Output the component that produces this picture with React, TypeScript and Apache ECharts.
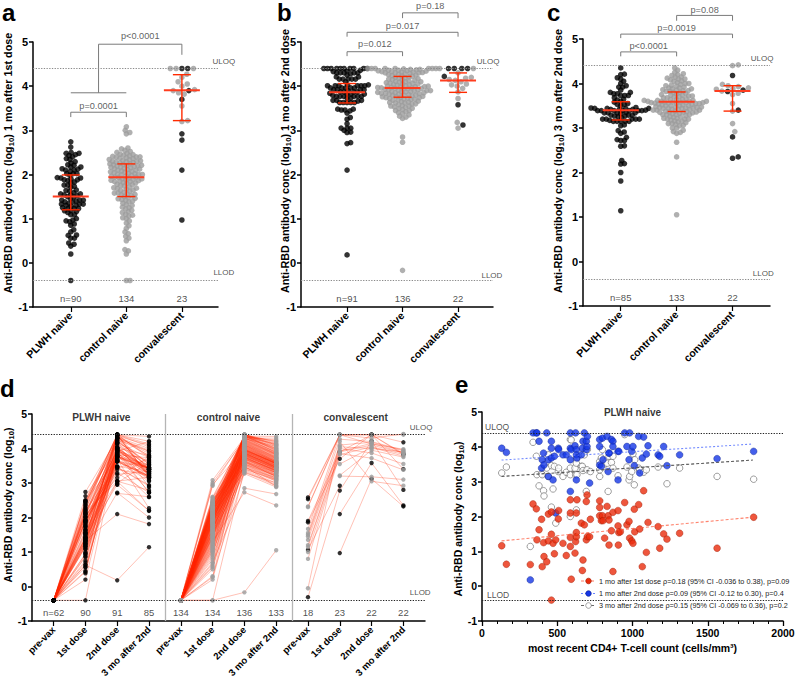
import React, { useEffect, useRef } from 'react';
import * as echarts from 'echarts';

const FONT = '"Liberation Sans", Arial, Helvetica, sans-serif';
const ULOQ = 4.4;
const LLOD = -0.4;

const groupNames = ['PLWH naive', 'control naive', 'convalescent'];
const timeLabels = ['pre-vax', '1st dose', '2nd dose', '3 mo after 2nd'];
const dColumns = [1, 2, 3, 4, 5, 6, 7, 8, 9, 10, 11, 12];

// ---------- PLWH naive, one entry per participant ----------
const plwhCd4 = [131, 162, 321, 339, 361, 365, 379, 396, 400, 409, 412, 430, 441, 441, 461, 461, 461, 472, 481, 490,
  507, 509, 538, 560, 587, 587, 587, 587, 593, 618, 622, 627, 627, 627, 631, 660, 667, 671, 680, 693,
  693, 698, 700, 715, 720, 782, 782, 782, 793, 800, 804, 815, 831, 838, 844, 844, 860, 870, 870, 904,
  904, 906, 909, 919, 948, 963, 977, 981, 995, 1003, 1012, 1015, 1041, 1048, 1065, 1074, 1092, 1103, 1170, 1181,
  1207, 1229, 1313, 1562, 1805, null, null, null, null, null, null, null, null, null, null, null, null, null];
const plwhDose1 = [1.16, 0.63, 0.62, 2.36, 2.22, 1.33, 1.62, 1.92, 0.56, 1.25, 0.85, 0.7, 2.07, 1.3, 2.13, 1.49, -0.4, 1.23, 0.93, 1.33,
  1.93, 2.17, 1.23, 0.88, 2.48, 2.1, 1.4, 1.14, 0.2, 0.95, 1.28, 2.1, 1.54, 1.42, 2.48, 1.81, 0.45, 0.75, 1.76, 2.43,
  1.33, 2.62, 1.42, 1.42, 1.92, 2.45, 2.26, 2.02, 1.88, 2.02, 1.88, 1.38, 2.29, 2.02, 1.9, 1.18, 1.59, 2.12, 0.42, 2.17,
  1.73, 1.18, 1.54, 1.56, 2.4, 1.76, 1.86, 1.38, 1.3, 1.23, 2.21, 1.56, 2.34, 1.64, 0.56, 2.74, 0.97, 1.83, 1.71, 1.09,
  1.5, 1.35, 1.52, 1.09, 1.98, 1.45, 2.5, 1.0, 0.38, 1.65, null, null, null, null, null, null, null, null];
const plwhDose2 = [3.96, 3.84, 0.18, 4.4, 4.4, 4.4, 4.16, 3.39, 3.63, 3.82, 3.48, 4.4, 3.15, 3.63, 4.16, 3.68, 3.96, 3.05, 3.73, 2.1,
  3.96, 3.92, 3.77, 3.77, 4.4, 3.96, 3.63, 2.72, 3.92, 4.03, 4.4, 3.92, 3.05, 3.77, 3.68, 3.77, 3.96, 4.16, 4.4, 4.16,
  3.92, 4.01, 4.3, 2.96, null, 4.21, 4.01, 3.48, 3.44, 4.25, 3.63, null, 4.3, 3.29, 3.82, 3.82, 4.21, 4.16, 4.01, 3.05,
  3.87, null, 3.87, null, 4.4, 4.01, 3.63, 4.4, 3.87, 4.01, 3.46, null, 4.3, 3.25, 3.68, 4.28, 3.79, 4.03, 3.77, 3.73,
  4.01, 3.46, 3.77, 3.66, 3.87, 4.4, 4.36, 4.33, 4.3, 4.35, 4.3, 3.0, 2.95, 2.7, 4.1, 3.9, null, null];
const plwhMo3 = [3.25, 3.42, 1.14, 4.13, 3.73, 3.2, 2.88, 3.23, 3.2, 2.74, 2.59, 3.39, 3.77, 3.15, 3.46, 2.27, null, 2.79, 3.44, 1.81,
  3.29, 3.39, 3.15, 3.27, 4.21, 3.39, 3.2, 2.0, 4.2, 3.39, 3.2, 3.65, 2.19, 3.53, 3.2, 3.44, 3.44, 3.32, 3.77, null,
  2.72, 3.34, 3.92, null, 3.29, 3.58, 3.15, 3.34, 3.68, 3.92, 3.44, null, 3.53, 2.72, 3.73, null, 3.55, 3.73, 3.39, 3.17,
  null, null, null, null, 4.35, 3.42, 3.05, 3.15, 3.29, 3.8, 2.91, 3.63, 3.39, 3.34, null, 3.27, 3.34, null, 3.42, null,
  null, 2.94, 3.39, 3.15, 3.07, 4.05, 4.1, 4.0, 3.95, 3.85, 3.8, 3.6, 2.2, 2.6, 3.5, 3.45, 3.4, 3.35];
const plwhPreVaxN = 62; // all pre-vaccination samples were below LLOD

// ---------- control naive ----------
const ctrlDose1 = [-0.4, -0.4, 0.2, 0.27, 0.3, 0.5, 0.56, 0.6, 0.66, 0.7,
  0.78, 0.84, 0.9, 0.95, 1.0, 1.02, 1.06, 1.08, 1.1, 1.14,
  1.16, 1.19, 1.22, 1.25, 1.26, 1.3, 1.32, 1.35, 1.38, 1.4,
  1.42, 1.43, 1.45, 1.46, 1.48, 1.5, 1.52, 1.54, 1.55, 1.56, 1.58, 1.58,
  1.6, 1.62, 1.64, 1.65, 1.67, 1.68, 1.69, 1.7, 1.72, 1.74, 1.75,
  1.77, 1.78, 1.8, 1.81, 1.82, 1.84, 1.84, 1.85, 1.86, 1.87, 1.88,
  1.89, 1.9, 1.91, 1.92, 1.93, 1.94, 1.94, 1.96, 1.97, 1.98, 1.99,
  2.0, 2.0, 2.01, 2.02, 2.03, 2.04, 2.05, 2.06, 2.07, 2.08, 2.1,
  2.1, 2.11, 2.12, 2.13, 2.14, 2.15, 2.16, 2.17, 2.18, 2.19, 2.2,
  2.2, 2.21, 2.22, 2.23, 2.24, 2.24, 2.26, 2.27, 2.28, 2.29, 2.3,
  2.3, 2.31, 2.32, 2.33, 2.34, 2.36, 2.37, 2.38, 2.39, 2.4,
  2.4, 2.41, 2.42, 2.44, 2.45, 2.46, 2.48, 2.5, 2.52, 2.55,
  2.58, 2.6, 2.92, 2.95, 3.0, 3.08, null, null];
const ctrlDose2 = [-0.17, 3.4, 3.62, 4.1, 3.3, 3.85, 3.55, 4.4, 3.7, 2.85, 3.95, 3.45, 4.05, 3.6, 3.78, 3.35, 4.2,
  3.88, 3.52, 4.4, 3.72, 4.0, 3.42, 3.8, 4.15, 2.73, 3.65, 3.92, 4.3, 3.58, 3.82, 4.08, 3.49, 3.75,
  4.4, 3.9, 3.68, 4.12, 3.27, 3.84, 4.25, 3.56, 3.96, 4.4, 3.74, 4.02, 3.63, 3.87, 4.18, 3.5, 3.93,
  4.35, 3.76, 4.06, 3.66, 3.99, 4.4, 3.81, 3.53, 4.22, 3.89, 4.4, 3.71, 4.14, 3.94, 3.38, 4.28, 3.86,
  4.04, 4.36, 3.79, 3.6, 4.17, 3.91, 4.32, 3.73, 4.4, 3.97, 3.47, 4.09, 3.83, 4.38, 3.69, 4.0, 4.33,
  3.77, 4.11, 3.95, 4.4, 3.32, 4.24, 3.88, 4.03, 3.64, 4.3, 3.9, 4.19, 3.74, 4.36, 3.98, 4.07, 3.55,
  4.38, 3.85, 4.13, 3.92, 4.27, 3.7, 4.4, 3.97, 4.05, 3.8, 4.21, 4.35, 3.62, 3.94, 4.33, 4.16, 3.87,
  4.31, 4.01, 3.76, 4.23, 4.37, 3.96, 4.1, 3.45, 4.34, 3.84, 4.3, 4.29, 3.99, 4.26, 4.32, 3.82, 4.39];
const ctrlMo3 = [1.05, 3.1, 3.3, 3.65, 3.0, 3.5, 3.2, 4.0, 3.35, 2.68, 3.55, 3.15, 3.6, 3.25, 3.42, 2.95, 3.78,
  3.45, 3.12, 4.1, 3.38, null, 3.05, 3.4, 3.72, 2.35, 3.28, 3.5, 3.9, 3.22, 3.44, 3.62, 2.9, 3.36,
  4.05, 3.52, 3.3, 3.68, 2.88, 3.46, 3.82, 3.2, 3.58, 4.2, 3.34, 3.6, 3.18, 3.47, 3.75, 3.1, 3.54,
  3.95, 3.35, 3.64, 3.26, 3.56, 4.15, 3.42, 3.14, 3.8, 3.5, null, 3.32, 3.7, 3.55, 3.0, 3.85, 3.48,
  3.62, 4.35, 3.4, 3.2, 3.74, 3.52, 3.88, 3.33, 4.1, 3.57, 3.08, 3.66, 3.44, 3.98, 3.3, 3.6, 4.25,
  3.38, 3.7, 3.58, 4.12, 2.92, 3.84, 3.46, 3.62, 3.24, 4.0, 3.5, 3.76, 3.36, 3.92, 3.57, 3.64, 3.16,
  4.08, 3.45, 3.72, 3.53, 3.86, 3.3, 4.18, 3.57, null, 3.4, 3.8, 4.02, 3.22, 3.55, 3.9, 3.74, 3.47,
  4.3, 3.6, 3.37, 3.82, 3.96, 3.56, 3.68, 3.06, 4.22, 3.44, 3.88, 4.06, 3.58, 3.84, 4.14, 3.42, 3.94];
const ctrlPreVaxN = 134;

// ---------- convalescent (1 = living with HIV) ----------
const convHiv = [1, 1, 1, 1, 1, 1, 1, 1, 0, 0, 0, 0, 0, 0, 0, 0, 0, 0, 0, 0, 0, 0, 0];
const convPre = [2.58, 2.53, 1.9, 1.86, 1.06, -0.31, null, null, 2.32, 2.3, 1.67, 1.55, -0.05, 1.5, 1.45, 1.35, 1.2, 1.15, 1.0, 0.8, null, null, null];
const convDose1 = [4.4, 4.4, 3.9, 3.7, 2.92, 2.78, 2.1, 0.97, 4.4, 4.4, 4.4, 4.27, 4.2, 4.1, 4.05, 4.0, 3.92, 3.9, 3.85, 3.82, 3.55, 3.22, 3.2];
const convDose2 = [4.4, 4.4, 4.4, 4.4, null, 4.22, 3.58, 3.12, 4.3, 4.4, 4.13, 4.2, 3.05, 4.18, 4.0, 3.87, 4.15, 4.1, 3.72, 4.05, 4.03, 3.95, 3.18];
const convMo3 = [4.18, 3.85, 3.82, 3.4, null, 2.8, 2.35, 2.32, 4.42, 4.4, 3.98, 3.95, 2.92, 3.93, 3.9, 3.55, 3.88, 3.87, 3.38, 3.83, 3.78, 3.75, 3.1];

// ---------- summary statistics (median, IQR) ----------
const medA = [1.5, 1.94, 3.91]; const q1A = [1.2, 1.5, 3.22]; const q3A = [1.99, 2.24, 4.26];
const medB = [3.86, 3.96, 4.13]; const q1B = [3.62, 3.75, 3.86]; const q3B = [4.06, 4.22, 4.3];
const medC = [3.4, 3.59, 3.83]; const q1C = [3.18, 3.37, 3.38]; const q3C = [3.59, 3.81, 3.95];

const nA = ['n=90', '134', '23'];
const nB = ['n=91', '136', '22'];
const nC = ['n=85', '133', '22'];
const nD = ['n=62', '90', '91', '85', '134', '134', '136', '133', '18', '23', '22', '22'];

const pA = [[1.5, 3.54, 'p=0.0001'], [2.25, 5.14, 'p<0.0001']];
const pB = [[1.5, 4.95, 'p=0.012'], [2, 5.37, 'p=0.017'], [2.5, 5.81, 'p=0.18']];
const pC = [[1.5, 4.85, 'p<0.0001'], [2, 5.24, 'p=0.0019'], [2.5, 5.66, 'p=0.08']];
const bracketsA = [
  [[1, 3.3], [1, 3.41], [2, 3.41], [2, 3.3]],
  [[1, 3.85], [2, 3.85]],
  [[1.5, 3.85], [1.5, 4.95], [3, 4.95], [3, 4.71]],
];
const bracketsB = [
  [[1, 4.68], [1, 4.78], [2, 4.78], [2, 4.68]],
  [[1, 5.12], [1, 5.22], [3, 5.22], [3, 5.12]],
  [[2, 5.54], [2, 5.66], [3, 5.66], [3, 5.54]],
];
const bracketsC = [
  [[1, 4.61], [1, 4.71], [2, 4.71], [2, 4.61]],
  [[1, 5.02], [1, 5.11], [3, 5.11], [3, 5.02]],
  [[2, 5.41], [2, 5.53], [3, 5.53], [3, 5.41]],
];

// regression lines in panel e
const fitX = [130, 1800];
const fitDose1 = [1.3, 1.98];
const fitDose2 = [3.62, 4.08];
const fitMo3 = [3.15, 3.62];
const legendLabels = [
  '1 mo after 1st dose \u03c1=0.18 (95% CI -0.036 to 0.38), p=0.09',
  '1 mo after 2nd dose \u03c1=0.09 (95% CI -0.12 to 0.30), p=0.4',
  '3 mo after 2nd dose \u03c1=0.15 (95% CI -0.069 to 0.36), p=0.2',
];

// ---------- layout ----------
const GA = { left: 33, top: 42, width: 185, height: 265, xMin: 0.32, xMax: 3.65 };
const GB = { left: 301, top: 42, width: 192, height: 265, xMin: 0.17, xMax: 3.63 };
const GC = { left: 583, top: 39, width: 187, height: 267, xMin: 0.325, xMax: 3.67 };
const GD = { left: 32, top: 414, width: 393, height: 207, xMin: 0.32, xMax: 12.68 };
const GE = { left: 482, top: 412, width: 301, height: 209, xMin: 0, xMax: 2000 };

const BLACK = '#000';
const GRAY = '#9c9c9c';
const RED = '#ff2a00';
const SWARM_GAP = 3.7;

function swarmOffsets(vals, pxX, pxY, gap) {
  const order = vals.map((_, i) => i).sort((a, b) => vals[a] - vals[b]);
  const placed = [];
  const off = vals.map(() => 0);
  for (const i of order) {
    const y = vals[i] * pxY;
    const near = placed.filter((p) => Math.abs(p[1] - y) < gap);
    const cands = [0];
    near.forEach((p) => {
      const d = Math.sqrt(gap * gap - (p[1] - y) * (p[1] - y));
      cands.push(p[0] + d, p[0] - d);
    });
    cands.sort((a, b) => Math.abs(a) - Math.abs(b) || b - a);
    let x = 0;
    for (const c of cands) {
      if (near.every((p) => (p[0] - c) * (p[0] - c) + (p[1] - y) * (p[1] - y) >= gap * gap - 0.01)) { x = c; break; }
    }
    placed.push([x, y]);
    off[i] = x / pxX;
  }
  return off;
}

function swarmData(G, groups, gap) {
  const pxX = G.width / (G.xMax - G.xMin);
  const pxY = G.height / 6;
  const data = [];
  groups.forEach((g, k) => {
    const off = swarmOffsets(g.vals, pxX, pxY, g.gap || gap);
    g.vals.forEach((v, i) => data.push({ value: [k + 1 + off[i], v], itemStyle: { color: g.colors[i] } }));
  });
  return data;
}

function present(arr, colorFn, gap) {
  const vals = [];
  const colors = [];
  arr.forEach((v, i) => { if (v != null) { vals.push(v); colors.push(colorFn(i)); } });
  return { vals, colors, gap };
}

const convColor = (i) => (convHiv[i] ? BLACK : GRAY);

function textSeries(gi, items, z = 20) {
  return {
    type: 'scatter', xAxisIndex: gi, yAxisIndex: gi, symbolSize: 1, silent: true, clip: false, z,
    itemStyle: { color: 'rgba(0,0,0,0)' },
    data: items.map((t) => ({
      value: [t.x, t.y],
      label: {
        show: true, position: 'inside', formatter: t.text, align: t.align || 'center', verticalAlign: 'middle',
        fontSize: t.size || 9.5, fontWeight: t.weight || 'normal', color: t.color || '#222', fontFamily: FONT,
      },
    })),
  };
}

function catXAxis(gi, G) {
  return {
    type: 'value', gridIndex: gi, min: G.xMin, max: G.xMax,
    axisLine: { show: true, onZero: false, lineStyle: { color: '#000', width: 1.5 } },
    axisTick: { show: true, customValues: [1, 2, 3], length: 5, lineStyle: { color: '#000', width: 1.2 } },
    axisLabel: {
      show: true, customValues: [1, 2, 3], rotate: 45, margin: 7,
      formatter: (v) => groupNames[Math.round(v) - 1] || '',
      fontFamily: FONT, fontWeight: 'bold', fontSize: 10.5, color: '#000',
    },
    splitLine: { show: false },
  };
}

function yAxisOf(gi, fs) {
  return {
    type: 'value', gridIndex: gi, min: -1, max: 5, interval: 1,
    axisLine: { show: true, onZero: false, lineStyle: { color: '#000', width: 1.5 } },
    axisTick: { show: true, length: 4, lineStyle: { color: '#000', width: 1.5 } },
    axisLabel: { fontFamily: FONT, fontWeight: 'bold', fontSize: fs, color: '#000', margin: 5 },
    splitLine: { show: false },
  };
}

function limitLines(color) {
  return {
    silent: true, symbol: ['none', 'none'], label: { show: false },
    lineStyle: { color, type: [1.3, 1.4], width: 1.1 },
    data: [{ yAxis: ULOQ }, { yAxis: LLOD }],
  };
}

function summarySeries(gi, med, q1, q3) {
  return {
    type: 'custom', coordinateSystem: 'cartesian2d', xAxisIndex: gi, yAxisIndex: gi, silent: true, z: 6,
    data: med.map((m, k) => [k + 1, m, q1[k], q3[k]]),
    renderItem: (params, api) => {
      const x = api.value(0);
      const pm = api.coord([x, api.value(1)]);
      const p1 = api.coord([x, api.value(2)]);
      const p3 = api.coord([x, api.value(3)]);
      const wM = 18;
      const wQ = 9;
      const st = { stroke: RED, lineWidth: 1.4 };
      return {
        type: 'group',
        children: [
          { type: 'line', shape: { x1: pm[0] - wM, y1: pm[1], x2: pm[0] + wM, y2: pm[1] }, style: { stroke: '#ff3d1f', lineWidth: 2 } },
          { type: 'line', shape: { x1: p1[0] - wQ, y1: p1[1], x2: p1[0] + wQ, y2: p1[1] }, style: st },
          { type: 'line', shape: { x1: p3[0] - wQ, y1: p3[1], x2: p3[0] + wQ, y2: p3[1] }, style: st },
          { type: 'line', shape: { x1: p1[0], y1: p1[1], x2: p3[0], y2: p3[1] }, style: st },
        ],
      };
    },
  };
}

function bracketSeries(gi, brackets) {
  return {
    type: 'lines', coordinateSystem: 'cartesian2d', xAxisIndex: gi, yAxisIndex: gi, polyline: true, clip: false, silent: true, z: 4,
    lineStyle: { color: '#7a7a7a', width: 1, opacity: 1 },
    data: brackets.map((c) => ({ coords: c })),
  };
}

function subjectSegments(cols, xs) {
  const segs = [];
  const n = cols[0].length;
  for (let i = 0; i < n; i++) {
    let cur = [];
    for (let t = 0; t < cols.length; t++) {
      const v = cols[t][i];
      if (v == null) { if (cur.length > 1) segs.push(cur); cur = []; continue; }
      cur.push([xs[t], v]);
    }
    if (cur.length > 1) segs.push(cur);
  }
  return segs;
}

function preVaxColumn(dose1, nPre) {
  let k = 0;
  return dose1.map((v) => {
    if (v != null && k < nPre) { k += 1; return LLOD; }
    return null;
  });
}

function yTitle(x, y, text, fs) {
  return {
    type: 'text', x, y, rotation: Math.PI / 2, z: 50,
    style: {
      text, fontFamily: FONT, fontSize: fs, fontWeight: 'bold', fill: '#000',
      align: 'center', verticalAlign: 'middle', textAlign: 'center', textVerticalAlign: 'middle', lineHeight: 15,
      rich: { s: { fontSize: fs * 0.72, fontWeight: 'bold', fontFamily: FONT, fill: '#000', verticalAlign: 'bottom', lineHeight: 9 } },
    },
  };
}

function panelLetter(x, y, t) {
  return { type: 'text', x, y, z: 50, style: { text: t, fontFamily: FONT, fontSize: 24, fontWeight: 'bold', fill: '#000', align: 'left', verticalAlign: 'middle', textAlign: 'left', textVerticalAlign: 'middle' } };
}

function buildOption() {
  const grids = [GA, GB, GC, GD, GE].map((g) => ({ left: g.left, top: g.top, width: g.width, height: g.height, containLabel: false, outerBoundsMode: 'none' }));

  // panel a-c swarms
  const aData = swarmData(GA, [present(plwhDose1, () => BLACK), present(ctrlDose1, () => GRAY), present(convDose1, convColor, 5.8)], SWARM_GAP);
  const bData = swarmData(GB, [present(plwhDose2, () => BLACK), present(ctrlDose2, () => GRAY), present(convDose2, convColor, 5.8)], SWARM_GAP);
  const cData = swarmData(GC, [present(plwhMo3, () => BLACK), present(ctrlMo3, () => GRAY), present(convMo3, convColor, 5.8)], SWARM_GAP);

  const abcSeries = [];
  [[aData, medA, q1A, q3A, nA, pA, bracketsA, [3.755, 4.56], [3.755, -0.22]],
   [bData, medB, q1B, q3B, nB, pB, bracketsB, [3.54, 4.56], [3.61, -0.28]],
   [cData, medC, q1C, q3C, nC, pC, bracketsC, [3.53, 4.57], [3.55, -0.28]]].forEach((p, gi) => {
    const [data, med, q1, q3, nl, pl, br, uPos, lPos] = p;
    abcSeries.push({
      type: 'scatter', xAxisIndex: gi, yAxisIndex: gi, symbolSize: 5.6, data, z: 3, silent: true,
      markLine: limitLines('#8a8a8a'),
    });
    abcSeries.push(summarySeries(gi, med, q1, q3));
    abcSeries.push(bracketSeries(gi, br));
    const texts = nl.map((t, k) => ({ x: k + 1, y: -0.8, text: t, size: 9.5 }));
    pl.forEach((q) => texts.push({ x: q[0], y: q[1], text: q[2], size: 9.2, color: '#333' }));
    texts.push({ x: uPos[0], y: uPos[1], text: 'ULOQ', size: 8, color: '#222' });
    texts.push({ x: lPos[0], y: lPos[1], text: 'LLOD', size: 8, color: '#222' });
    abcSeries.push(textSeries(gi, texts));
  });

  // panel d
  const plwhPre = preVaxColumn(plwhDose1, plwhPreVaxN);
  const ctrlPre = preVaxColumn(ctrlDose1, ctrlPreVaxN);
  const segs = [
    ...subjectSegments([plwhPre, plwhDose1, plwhDose2, plwhMo3], dColumns.slice(0, 4)),
    ...subjectSegments([ctrlPre, ctrlDose1, ctrlDose2, ctrlMo3], dColumns.slice(4, 8)),
    ...subjectSegments([convPre, convDose1, convDose2, convMo3], dColumns.slice(8, 12)),
  ];
  const dPts = [];
  const addCol = (arr, x, colorFn) => arr.forEach((v, i) => { if (v != null) dPts.push({ value: [x, v], itemStyle: { color: colorFn(i) } }); });
  [plwhPre, plwhDose1, plwhDose2, plwhMo3].forEach((arr, t) => addCol(arr, dColumns[t], () => BLACK));
  [ctrlPre, ctrlDose1, ctrlDose2, ctrlMo3].forEach((arr, t) => addCol(arr, dColumns[4 + t], () => GRAY));
  [convPre, convDose1, convDose2, convMo3].forEach((arr, t) => addCol(arr, dColumns[8 + t], convColor));

  const dSeries = [
    {
      type: 'lines', coordinateSystem: 'cartesian2d', xAxisIndex: 3, yAxisIndex: 3, polyline: true, silent: true, z: 2,
      lineStyle: { color: '#ff2a00', width: 0.7, opacity: 0.42 },
      data: segs.map((c) => ({ coords: c })),
      markLine: {
        silent: true, symbol: ['none', 'none'], label: { show: false },
        data: [
          { yAxis: ULOQ, lineStyle: { color: '#222', type: [1.3, 1.4], width: 1.1 } },
          { yAxis: LLOD, lineStyle: { color: '#222', type: [1.3, 1.4], width: 1.1 } },
          { xAxis: 4.5, lineStyle: { color: '#b5b5b5', type: 'solid', width: 1.3 } },
          { xAxis: 8.5, lineStyle: { color: '#b5b5b5', type: 'solid', width: 1.3 } },
        ],
      },
    },
    { type: 'scatter', xAxisIndex: 3, yAxisIndex: 3, symbolSize: 4.4, data: dPts, z: 3, silent: true },
    textSeries(3, [
      ...nD.map((t, k) => ({ x: dColumns[k], y: -0.75, text: t, size: 9.5 })),
      ...groupNames.map((g, k) => ({ x: 2.5 + 4 * k, y: 4.89, text: g, size: 10.2, weight: 'bold', color: '#000' })),
      { x: 12.2, y: 4.6, text: 'ULOQ', size: 8, align: 'left', color: '#222' },
      { x: 12.2, y: -0.18, text: 'LLOD', size: 8, align: 'left', color: '#222' },
    ]),
  ];

  // panel e
  const eRed = [];
  const eBlue = [];
  const eOpen = [];
  plwhCd4.forEach((c, i) => {
    if (c == null) return;
    if (plwhDose1[i] != null) eRed.push([c, plwhDose1[i]]);
    if (plwhDose2[i] != null) eBlue.push([c, plwhDose2[i]]);
    if (plwhMo3[i] != null) eOpen.push([c, plwhMo3[i]]);
  });
  const fitLine = (ys, color, dash) => ({
    type: 'line', xAxisIndex: 4, yAxisIndex: 4, showSymbol: false, silent: true, z: 5,
    data: fitX.map((x, k) => [x, ys[k]]), lineStyle: { color, width: 1.1, type: dash },
  });
  const eSeries = [
    {
      type: 'scatter', xAxisIndex: 4, yAxisIndex: 4, symbolSize: 6.5, data: eOpen, z: 3, silent: true,
      itemStyle: { color: '#fff', borderColor: '#666', borderWidth: 0.8 },
      markLine: limitLines('#222'),
    },
    { type: 'scatter', xAxisIndex: 4, yAxisIndex: 4, symbolSize: 6.8, data: eBlue, z: 3, silent: true, itemStyle: { color: '#1537e6', borderColor: '#0b1d8a', borderWidth: 0.5 } },
    { type: 'scatter', xAxisIndex: 4, yAxisIndex: 4, symbolSize: 6.8, data: eRed, z: 3, silent: true, itemStyle: { color: '#ea2c0c', borderColor: '#9a1a00', borderWidth: 0.5 } },
    fitLine(fitDose1, 'rgba(255,90,60,0.75)', [3, 2]),
    fitLine(fitDose2, 'rgba(80,110,255,0.8)', [2, 2]),
    fitLine(fitMo3, '#555', [3, 2]),
    textSeries(4, [
      { x: 1000, y: 5.0, text: 'PLWH naive', size: 10, weight: 'bold', color: '#000' },
      { x: 20, y: 4.57, text: 'ULOQ', size: 8.5, align: 'left', color: '#222' },
      { x: 33, y: -0.24, text: 'LLOD', size: 8.5, align: 'left', color: '#222' },
    ]),
  ];

  // legend of panel e (graphic)
  const legendRows = [
    { y: 581, line: 'rgba(255,90,60,0.8)', dash: [3, 2], fill: '#ea2c0c', stroke: '#9a1a00' },
    { y: 593.5, line: 'rgba(80,110,255,0.85)', dash: [2, 2], fill: '#1537e6', stroke: '#0b1d8a' },
    { y: 605.5, line: '#666', dash: [3, 2], fill: '#fff', stroke: '#666' },
  ];
  const legendEls = [];
  legendRows.forEach((r, k) => {
    legendEls.push({ type: 'line', z: 40, shape: { x1: 581, y1: r.y, x2: 596, y2: r.y }, style: { stroke: r.line, lineWidth: 1, lineDash: r.dash } });
    legendEls.push({ type: 'circle', z: 41, shape: { cx: 588.5, cy: r.y, r: 2.8 }, style: { fill: r.fill, stroke: r.stroke, lineWidth: 0.6 } });
    legendEls.push({ type: 'text', z: 41, x: 599, y: r.y, style: { text: legendLabels[k], fontFamily: FONT, fontSize: 7.25, fill: '#222', align: 'left', verticalAlign: 'middle', textAlign: 'left', textVerticalAlign: 'middle' } });
  });

  const dXAxis = {
    type: 'value', gridIndex: 3, min: GD.xMin, max: GD.xMax,
    axisLine: { show: true, onZero: false, lineStyle: { color: '#000', width: 1.5 } },
    axisTick: { show: true, customValues: dColumns, length: 5, lineStyle: { color: '#000', width: 1.2 } },
    axisLabel: {
      show: true, customValues: dColumns, rotate: 45, margin: 7,
      formatter: (v) => timeLabels[(Math.round(v) - 1) % 4],
      fontFamily: FONT, fontWeight: 'bold', fontSize: 9.6, color: '#000',
    },
    splitLine: { show: false },
  };
  const eXAxis = {
    type: 'value', gridIndex: 4, min: 0, max: 2000, interval: 500,
    axisLine: { show: true, onZero: false, lineStyle: { color: '#000', width: 1.5 } },
    axisTick: { show: true, length: 5, lineStyle: { color: '#000', width: 1.3 } },
    minorTick: { show: true, splitNumber: 5, length: 3, lineStyle: { color: '#000', width: 1 } },
    axisLabel: { fontFamily: FONT, fontWeight: 'bold', fontSize: 10.5, color: '#000', margin: 6, formatter: (v) => String(v) },
    splitLine: { show: false },
    name: 'most recent CD4+ T-cell count (cells/mm\u00b3)', nameLocation: 'middle', nameGap: 21,
    nameTextStyle: { fontFamily: FONT, fontWeight: 'bold', fontSize: 10.5, color: '#000' },
  };

  return {
    animation: false,
    backgroundColor: '#fff',
    grid: grids,
    xAxis: [catXAxis(0, GA), catXAxis(1, GB), catXAxis(2, GC), dXAxis, eXAxis],
    yAxis: [yAxisOf(0, 11), yAxisOf(1, 11), yAxisOf(2, 11), yAxisOf(3, 10.5), yAxisOf(4, 10.5)],
    series: [...abcSeries, ...dSeries, ...eSeries],
    graphic: [
      panelLetter(2, 12.5, 'a'), panelLetter(277, 12.5, 'b'), panelLetter(547, 12.5, 'c'), panelLetter(0, 388.5, 'd'), panelLetter(455, 384.5, 'e'),
      yTitle(8, 163, 'Anti-RBD antibody conc (log{s|10}) 1 mo after 1st dose', 10.8),
      yTitle(285, 161, 'Anti-RBD antibody conc (log{s|10}) 1 mo after 2nd dose', 10.8),
      yTitle(558, 161, 'Anti-RBD antibody conc (log{s|10}) 3 mo after 2nd dose', 10.8),
      yTitle(8, 505, 'Anti-RBD antibody conc (log{s|10})', 10.5),
      yTitle(458, 519, 'Anti-RBD antibody conc (log{s|10})', 10.5),
      ...legendEls,
    ],
  };
}

export default function App() {
  const ref = useRef(null);
  useEffect(() => {
    const chart = echarts.init(ref.current, null, { renderer: 'svg' });
    chart.setOption(buildOption());
    return () => chart.dispose();
  }, []);
  return <div ref={ref} style={{ position: 'absolute', left: 0, top: 0, width: 798, height: 679, background: '#fff' }} />;
}
